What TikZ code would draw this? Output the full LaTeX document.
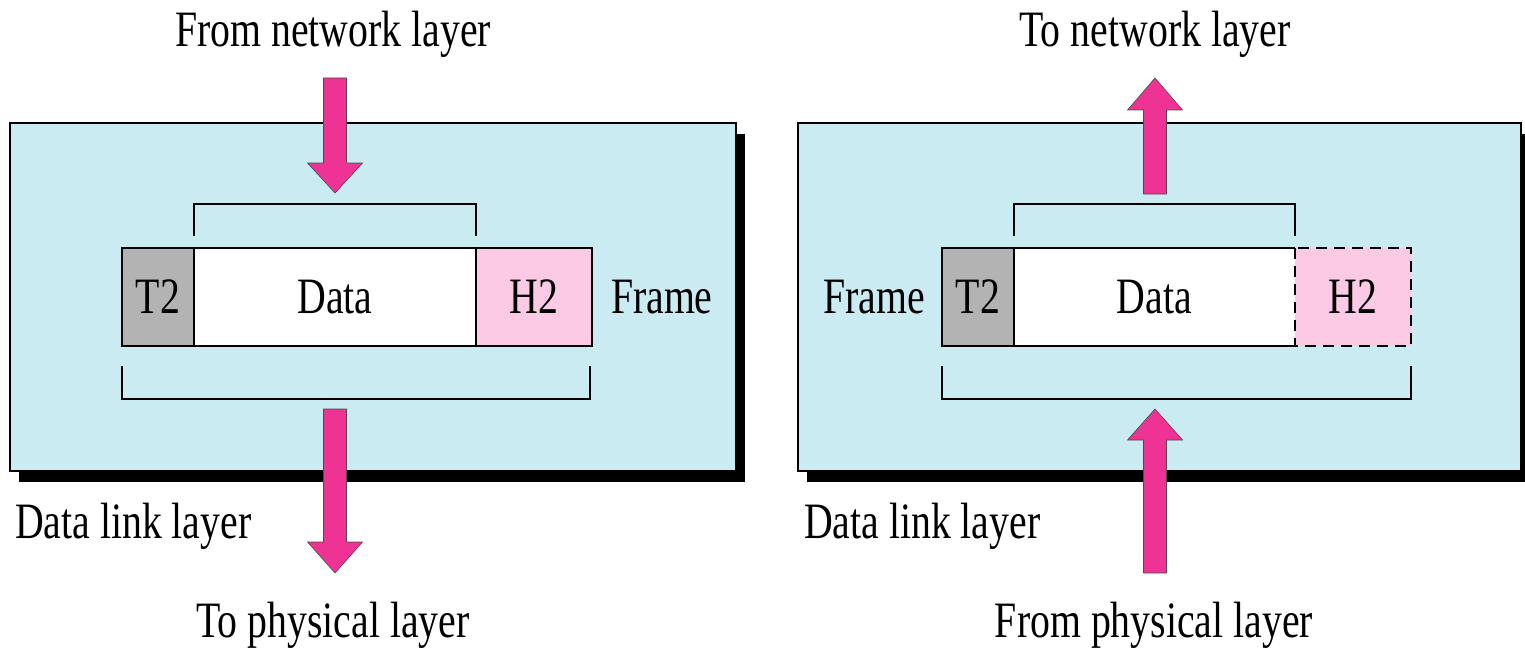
\documentclass[tikz,border=0pt]{standalone}
\usepackage{fontspec}
\setmainfont[FakeStretch=0.78]{Liberation Serif}
\usetikzlibrary{calc}

\definecolor{panelblue}{HTML}{CAEBF2}
\definecolor{arrowpink}{HTML}{EE3394}
\definecolor{trailergray}{HTML}{B3B3B3}
\definecolor{headerpink}{HTML}{FCCAE5}

% vertical fat arrow: #1 tail, #2 tip, #3 offset of the head base from the tip
\newcommand{\fatarrowv}[3]{%
  \filldraw[fatarrow] let \p1=(#1), \p2=(#2) in
    (\x1-11.5pt,\y1) -- (\x1-11.5pt,{\y2+(#3)}) -- (\x1-27.5pt,{\y2+(#3)})
    -- (\x2,\y2) -- (\x1+27.5pt,{\y2+(#3)}) -- (\x1+11.5pt,{\y2+(#3)})
    -- (\x1+11.5pt,\y1) -- cycle;}

\begin{document}
\begin{tikzpicture}[x=1pt,y=-1pt,
  every node/.style={font=\fontsize{51}{60}\selectfont, inner sep=0pt, outer sep=0pt},
  panel/.style={fill=panelblue, draw=black, line width=2pt},
  shadowbox/.style={fill=black},
  field/.style={draw=black, line width=2pt, minimum height=98pt, anchor=west},
  bracket/.style={draw=black, line width=2pt},
  fatarrow/.style={fill=arrowpink, draw=black!70, line width=0.6pt, line join=miter},
  label/.style={anchor=base}]
\useasboundingbox (0,0) rectangle (1525,650);
\clip (0,0) rectangle (1525,650);
\fill[white] (0,0) rectangle (1525,650);

% ---------- sending side ----------
\fill[shadowbox] (19,134) rectangle (745,482);
\node[panel, minimum width=726pt, minimum height=348pt, anchor=north west] (lpanel) at (10,123) {};

\node[field, fill=trailergray, minimum width=72pt] (lt2) at (122,297) {T2};
\node[field, fill=white, minimum width=282pt] (ldata) at (lt2.east) {Data};
\node[field, fill=headerpink, minimum width=116pt] (lh2) at (ldata.east) {H2};
\node[anchor=west] (lframe) at (611,297) {Frame};

\draw[bracket] ($(ldata.north west)+(0,-12)$) -- ($(ldata.north west)+(0,-44)$)
  -- ($(ldata.north east)+(0,-44)$) -- ($(ldata.north east)+(0,-12)$);
\draw[bracket] ($(lt2.south west)+(0,20)$) -- ($(lt2.south west)+(0,53)$)
  -- ($(lh2.south east)+(-2,53)$) -- ($(lh2.south east)+(-2,20)$);

\coordinate (lin1) at (335,78);  \coordinate (lin2) at (335,193);
\coordinate (lout1) at (335,409); \coordinate (lout2) at (335,573);
\fatarrowv{lin1}{lin2}{30pt}
\fatarrowv{lout1}{lout2}{31pt}

\node[label] (lfrom) at (333,46.7) {From network layer};
\node[label] (lto) at (333,637) {To physical layer};
\node[label, anchor=base west] (llayer) at (15,538) {Data link layer};

% ---------- receiving side ----------
\fill[shadowbox] (807,134) rectangle (1532,482);
\node[panel, minimum width=723pt, minimum height=348pt, anchor=north west] (rpanel) at (798,123) {};

\node[field, fill=trailergray, minimum width=72pt] (rt2) at (942,297) {T2};
\node[field, draw=none, fill=white, minimum width=281pt] (rdata) at (rt2.east) {Data};
\node[field, draw=none, fill=headerpink, minimum width=116pt] (rh2) at (rdata.east) {H2};
\draw[black, line width=2pt] (rdata.north east) -- (rdata.north west)
  -- (rdata.south west) -- (rdata.south east);
\draw[black, line width=2pt, dash pattern=on 11pt off 7pt]
  (rh2.north west) rectangle (rh2.south east);
\node[anchor=east] (rframe) at (925,297) {Frame};

\draw[bracket] ($(rdata.north west)+(0,-12)$) -- ($(rdata.north west)+(0,-44)$)
  -- ($(rdata.north east)+(0,-44)$) -- ($(rdata.north east)+(0,-12)$);
\draw[bracket] ($(rt2.south west)+(0,20)$) -- ($(rt2.south west)+(0,53)$)
  -- ($(rh2.south east)+(0,53)$) -- ($(rh2.south east)+(0,20)$);

\coordinate (rout1) at (1155,194); \coordinate (rout2) at (1155,78);
\coordinate (rin1) at (1155,573);  \coordinate (rin2) at (1155,409);
\fatarrowv{rout1}{rout2}{-32pt}
\fatarrowv{rin1}{rin2}{-31pt}

\node[label] (rto) at (1155,46.7) {To network layer};
\node[label] (rfrom) at (1154,637) {From physical layer};
\node[label, anchor=base west] (rlayer) at (804,538) {Data link layer};
\end{tikzpicture}
\end{document}
